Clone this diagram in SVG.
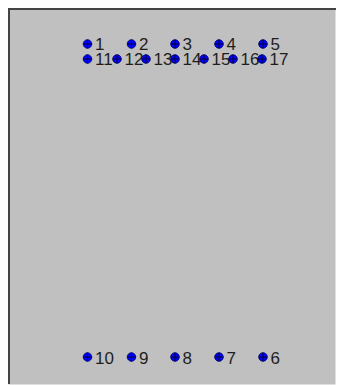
<svg xmlns="http://www.w3.org/2000/svg" width="337" height="385" viewBox="0 0 337 385">
<style>
.d{fill:#0000ff;stroke:#000060;stroke-width:0.8}
.x{stroke:#000030;stroke-width:1}
text{font-family:"Liberation Sans",Arial,sans-serif;font-size:17px;fill:#1e1e1e}
</style>
<defs>
<g id="dot"><circle r="4.3" class="d"/><path d="M-4.3,0H4.3M0,-4.3V4.3" class="x"/></g>
</defs>
<rect width="337" height="385" fill="#fff"/>
<rect x="8.5" y="8.5" width="327" height="376" fill="#c0c0c0"/>
<path d="M9,384V9H336" fill="none" stroke="#444" stroke-width="2"/>
<g id="connectors"/>
<g id="n1"><use href="#dot" x="87.5" y="44"/><text x="95" y="50">1</text></g>
<g id="n2"><use href="#dot" x="131.5" y="44"/><text x="139" y="50">2</text></g>
<g id="n3"><use href="#dot" x="175" y="44"/><text x="182.5" y="50">3</text></g>
<g id="n4"><use href="#dot" x="219" y="44"/><text x="226.5" y="50">4</text></g>
<g id="n5"><use href="#dot" x="263" y="44"/><text x="270.5" y="50">5</text></g>
<g id="n11"><use href="#dot" x="87.5" y="59"/><text x="95" y="65">11</text></g>
<g id="n12"><use href="#dot" x="117" y="59"/><text x="124.5" y="65">12</text></g>
<g id="n13"><use href="#dot" x="146" y="59"/><text x="153.5" y="65">13</text></g>
<g id="n14"><use href="#dot" x="175" y="59"/><text x="182.5" y="65">14</text></g>
<g id="n15"><use href="#dot" x="204" y="59"/><text x="211.5" y="65">15</text></g>
<g id="n16"><use href="#dot" x="233" y="59"/><text x="240.5" y="65">16</text></g>
<g id="n17"><use href="#dot" x="262" y="59"/><text x="269.5" y="65">17</text></g>
<g id="n10"><use href="#dot" x="87.5" y="357"/><text x="95" y="364">10</text></g>
<g id="n9"><use href="#dot" x="131.5" y="357"/><text x="139" y="364">9</text></g>
<g id="n8"><use href="#dot" x="175" y="357"/><text x="182.5" y="364">8</text></g>
<g id="n7"><use href="#dot" x="219" y="357"/><text x="226.5" y="364">7</text></g>
<g id="n6"><use href="#dot" x="263" y="357"/><text x="270.5" y="364">6</text></g>
</svg>
